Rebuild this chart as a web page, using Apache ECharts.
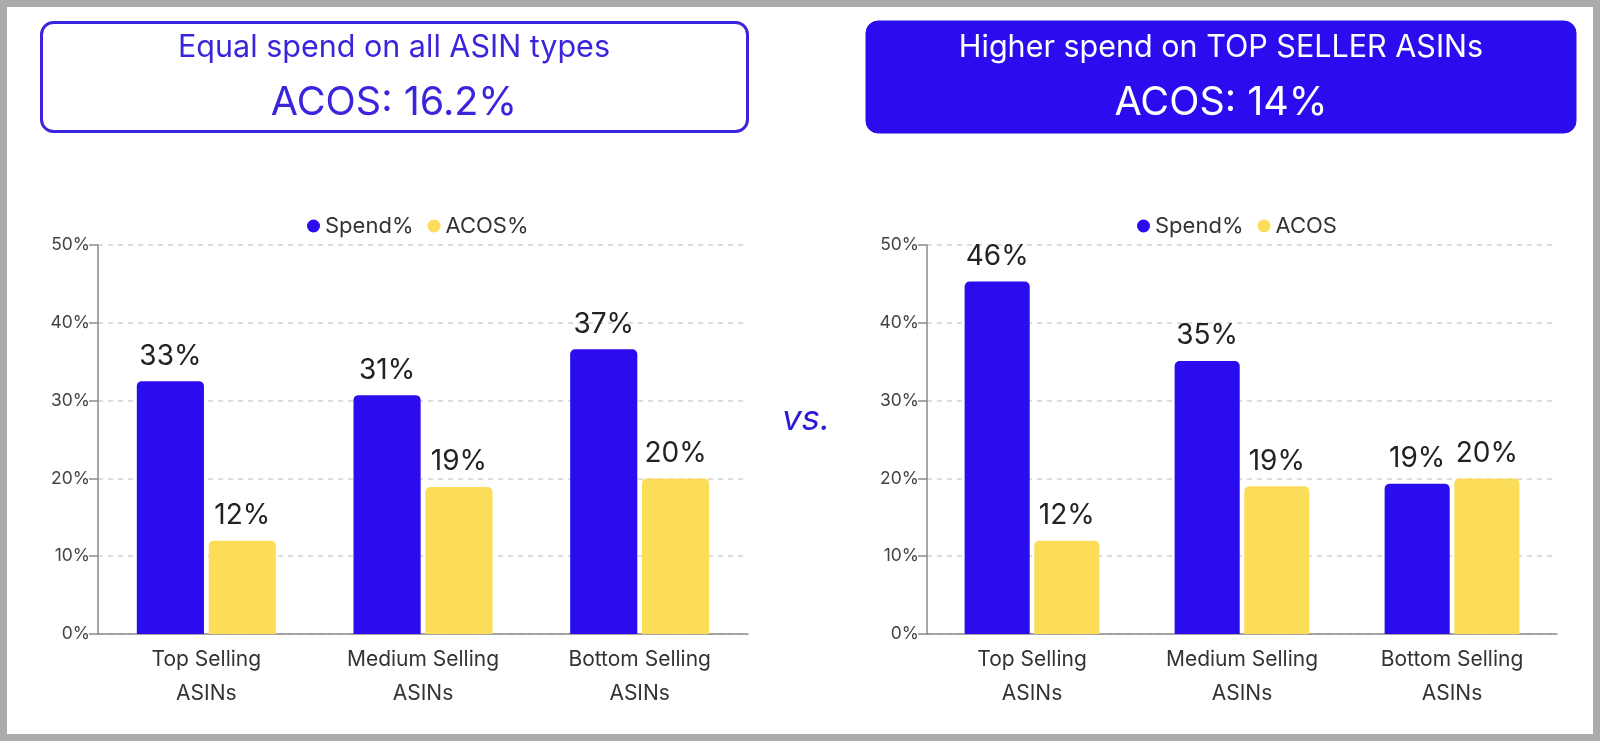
<!DOCTYPE html>
<html>
<head>
<meta charset="utf-8">
<script src="https://cdn.jsdelivr.net/npm/echarts@6/dist/echarts.min.js"></script>
<style>
html,body{margin:0;padding:0;background:#fff;}
#chart{width:1600px;height:741px;}
</style>
</head>
<body>
<div id="chart"></div>
<script>
const categories = ['Top Selling\nASINs', 'Medium Selling\nASINs', 'Bottom Selling\nASINs'];
const yTicks = [0, 10, 20, 30, 40, 50];

const leftSpend = [32.5, 30.7, 36.6];
const leftSpendLabels = ['33%', '31%', '37%'];
const leftAcos = [12.0, 18.9, 20.0];
const leftAcosLabels = ['12%', '19%', '20%'];

const rightSpend = [45.3, 35.1, 19.3];
const rightSpendLabels = ['46%', '35%', '19%'];
const rightAcos = [12.0, 19.0, 20.0];
const rightAcosLabels = ['12%', '19%', '20%'];

const leftTitle = ['Equal spend on all ASIN types', 'ACOS: 16.2%'];
const rightTitle = ['Higher spend on TOP SELLER ASINs', 'ACOS: 14%'];
const vsText = 'vs.';

const BLUE = '#2b0cef';
const YELLOW = '#fcdd5a';
const FONT = 'Inter, Roboto, sans-serif';

const chart = echarts.init(document.getElementById('chart'), null, {renderer: 'canvas'});

function yAxis(gi) {
  return {
    type: 'value', gridIndex: gi, min: yTicks[0], max: yTicks[yTicks.length - 1], interval: yTicks[1] - yTicks[0],
    axisLine: {show: true, lineStyle: {color: '#8a8a8a', width: 1.5}},
    axisTick: {show: true, length: 9, lineStyle: {color: '#8a8a8a', width: 1.5}},
    axisLabel: {formatter: '{value}%', fontSize: 17.5, color: '#444', fontFamily: FONT, margin: 8},
    splitLine: {show: true, lineStyle: {color: '#d4d4d4', type: [5, 5], width: 1.5}}
  };
}
function xAxis(gi) {
  return {
    type: 'category', gridIndex: gi, data: categories,
    axisLine: {show: true, lineStyle: {color: '#8a8a8a', width: 1.5}},
    axisTick: {show: false},
    axisLabel: {fontSize: 21, color: '#333', fontFamily: FONT, lineHeight: 34, margin: 9, interval: 0}
  };
}
function bar(name, gi, data, labels, color) {
  return {
    name: name, type: 'bar', xAxisIndex: gi, yAxisIndex: gi,
    data: data, barWidth: '31%', barGap: '7%',
    itemStyle: {color: color, borderRadius: [5, 5, 0, 0]},
    label: {show: true, position: 'top', distance: 11, fontSize: 28, color: '#222', fontFamily: FONT,
      formatter: function (p) { return labels[p.dataIndex]; }}
  };
}

const legendText = {fontSize: 22, color: '#333', fontFamily: FONT};
const option = {
  backgroundColor: '#fff',
  animation: false,
  grid: [
    {left: 98, right: 1600 - 748, top: 245, bottom: 741 - 634},
    {left: 927, right: 1600 - 1557, top: 245, bottom: 741 - 634}
  ],
  xAxis: [xAxis(0), xAxis(1)],
  yAxis: [yAxis(0), yAxis(1)],
  legend: [
    {left: 302, top: 210, itemWidth: 13, itemHeight: 13, itemGap: 14, icon: 'circle',
      textStyle: legendText, data: ['Spend%', 'ACOS%']},
    {left: 1132, top: 210, itemWidth: 13, itemHeight: 13, itemGap: 14, icon: 'circle',
      textStyle: legendText, data: ['Spend%', 'ACOS']}
  ],
  series: [
    bar('Spend%', 0, leftSpend, leftSpendLabels, BLUE),
    bar('ACOS%', 0, leftAcos, leftAcosLabels, YELLOW),
    bar('Spend%', 1, rightSpend, rightSpendLabels, BLUE),
    bar('ACOS', 1, rightAcos, rightAcosLabels, YELLOW)
  ],
  graphic: [
    {type: 'rect', silent: true, shape: {x: 3.5, y: 3.5, width: 1593, height: 734},
      style: {fill: 'none', stroke: '#ababab', lineWidth: 7}},
    {type: 'rect', silent: true, shape: {x: 41.5, y: 22.5, width: 706, height: 109, r: 12},
      style: {fill: '#fff', stroke: '#3a25dc', lineWidth: 3}},
    {type: 'text', silent: true, x: 394, y: 48,
      style: {text: leftTitle[0], fill: '#3a25dc', font: '30.5px ' + FONT, textAlign: 'center', textVerticalAlign: 'middle'}},
    {type: 'text', silent: true, x: 394, y: 103,
      style: {text: leftTitle[1], fill: '#3a25dc', font: '39.5px ' + FONT, textAlign: 'center', textVerticalAlign: 'middle'}},
    {type: 'rect', silent: true, shape: {x: 866, y: 21, width: 710, height: 112, r: 12},
      style: {fill: '#2b0cef', stroke: '#2b0cef', lineWidth: 1}},
    {type: 'text', silent: true, x: 1221, y: 48,
      style: {text: rightTitle[0], fill: '#fff', font: '30.5px ' + FONT, textAlign: 'center', textVerticalAlign: 'middle'}},
    {type: 'text', silent: true, x: 1221, y: 103,
      style: {text: rightTitle[1], fill: '#fff', font: '39.5px ' + FONT, textAlign: 'center', textVerticalAlign: 'middle'}},
    {type: 'text', silent: true, x: 806, y: 419,
      style: {text: vsText, fill: '#2b1bd6', font: 'italic 35px ' + FONT, textAlign: 'center', textVerticalAlign: 'middle'}}
  ]
};
chart.setOption(option);
</script>
</body>
</html>
